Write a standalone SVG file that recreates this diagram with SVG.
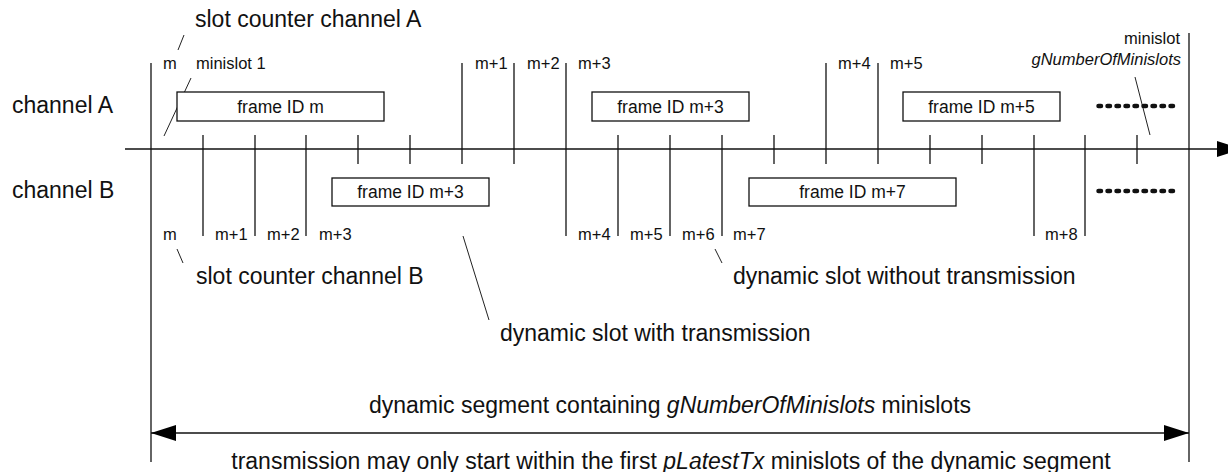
<svg xmlns="http://www.w3.org/2000/svg" width="1228" height="472" viewBox="0 0 1228 472">
<defs>
<style>
.ln{stroke:#111;stroke-width:1.3;fill:none}
.ld{stroke:#222;stroke-width:1;fill:none}
.box{fill:#fff;stroke:#111;stroke-width:1.3}
.big{font-family:"Liberation Sans",Arial,sans-serif;font-size:23px;fill:#111}
.ft{font-family:"Liberation Sans",Arial,sans-serif;font-size:17.5px;fill:#111;text-anchor:middle}
.sm{font-family:"Liberation Sans",Arial,sans-serif;font-size:16.5px;fill:#111}
.dash{stroke:#111;stroke-width:4.5;stroke-dasharray:2.5 6.5;stroke-linecap:round;fill:none}
</style>
<marker id="ah" markerWidth="25" markerHeight="16" refX="25" refY="8" orient="auto-start-reverse" markerUnits="userSpaceOnUse">
<path d="M0,0 L25,8 L0,16 Z" fill="#000"/>
</marker>
</defs>
<rect width="1228" height="472" fill="#fff"/>

<g id="connectors">
<line class="ln" x1="151" y1="63" x2="151" y2="462"/>
<line class="ln" x1="1189" y1="33" x2="1189" y2="462"/>
<line class="ln" x1="125" y1="149" x2="1217" y2="149"/>
<path d="M1217,141 L1242,149 L1217,157 Z" fill="#000"/>
<g id="ticks">
<line class="ln" x1="203" y1="135" x2="203" y2="236"/>
<line class="ln" x1="255" y1="135" x2="255" y2="236"/>
<line class="ln" x1="306" y1="135" x2="306" y2="236"/>
<line class="ln" x1="358" y1="135" x2="358" y2="164"/>
<line class="ln" x1="410" y1="135" x2="410" y2="164"/>
<line class="ln" x1="462" y1="63" x2="462" y2="164"/>
<line class="ln" x1="514" y1="63" x2="514" y2="164"/>
<line class="ln" x1="566" y1="63" x2="566" y2="236"/>
<line class="ln" x1="618" y1="135" x2="618" y2="236"/>
<line class="ln" x1="670" y1="135" x2="670" y2="236"/>
<line class="ln" x1="722" y1="135" x2="722" y2="236"/>
<line class="ln" x1="774" y1="135" x2="774" y2="164"/>
<line class="ln" x1="826" y1="63" x2="826" y2="164"/>
<line class="ln" x1="878" y1="63" x2="878" y2="164"/>
<line class="ln" x1="930" y1="135" x2="930" y2="164"/>
<line class="ln" x1="982" y1="135" x2="982" y2="164"/>
<line class="ln" x1="1034" y1="135" x2="1034" y2="236"/>
<line class="ln" x1="1085" y1="135" x2="1085" y2="236"/>
<line class="ln" x1="1137" y1="135" x2="1137" y2="164"/>
</g>
<g id="leaders">
<line class="ld" x1="184" y1="35" x2="178" y2="50"/>
<line class="ld" x1="191" y1="78" x2="164" y2="136"/>
<line class="ld" x1="177" y1="249" x2="183" y2="263"/>
<line class="ld" x1="463" y1="236" x2="489" y2="320"/>
<line class="ld" x1="715" y1="249" x2="722" y2="263"/>
<line class="ld" x1="1135" y1="77" x2="1150" y2="135"/>
</g>
<line class="ln" x1="151" y1="433" x2="1189" y2="433" marker-start="url(#ah)" marker-end="url(#ah)"/>
</g>

<g id="frameA1"><rect class="box" x="177" y="92" width="207" height="29"/><text class="ft" x="280.5" y="113">frame ID m</text></g>
<g id="frameA2"><rect class="box" x="592" y="92" width="157" height="29"/><text class="ft" x="670.5" y="113">frame ID m+3</text></g>
<g id="frameA3"><rect class="box" x="903" y="92" width="157" height="29"/><text class="ft" x="981.5" y="113">frame ID m+5</text></g>
<g id="frameB1"><rect class="box" x="332" y="178" width="157" height="28"/><text class="ft" x="410.5" y="198">frame ID m+3</text></g>
<g id="frameB2"><rect class="box" x="749" y="178" width="207" height="28"/><text class="ft" x="852.5" y="198">frame ID m+7</text></g>

<g id="dashesA"><line class="dash" x1="1098.5" y1="106" x2="1173" y2="106"/></g>
<g id="dashesB"><line class="dash" x1="1098.5" y1="191" x2="1173" y2="191"/></g>

<g id="channel-labels">
<text class="big" x="12" y="113">channel A</text>
<text class="big" x="12" y="198">channel B</text>
</g>

<g id="labels-top">
<text class="sm" x="163" y="69">m</text>
<text class="sm" x="196" y="69">minislot 1</text>
<text class="sm" x="475" y="69">m+1</text>
<text class="sm" x="527" y="69">m+2</text>
<text class="sm" x="578" y="69">m+3</text>
<text class="sm" x="838" y="69">m+4</text>
<text class="sm" x="890" y="69">m+5</text>
<text class="sm" x="1180" y="44" text-anchor="end">minislot</text>
<text class="sm" x="1181" y="65" text-anchor="end" font-style="italic">gNumberOfMinislots</text>
</g>

<g id="labels-bottom">
<text class="sm" x="163" y="240">m</text>
<text class="sm" x="215" y="240">m+1</text>
<text class="sm" x="267" y="240">m+2</text>
<text class="sm" x="319" y="240">m+3</text>
<text class="sm" x="578" y="240">m+4</text>
<text class="sm" x="630" y="240">m+5</text>
<text class="sm" x="682" y="240">m+6</text>
<text class="sm" x="733" y="240">m+7</text>
<text class="sm" x="1045" y="240">m+8</text>
</g>

<g id="annotations">
<text class="big" x="195" y="27">slot counter channel A</text>
<text class="big" x="196" y="284">slot counter channel B</text>
<text class="big" x="733" y="284">dynamic slot without transmission</text>
<text class="big" x="500" y="341">dynamic slot with transmission</text>
<text class="big" x="670" y="413" text-anchor="middle">dynamic segment containing <tspan font-style="italic">gNumberOfMinislots</tspan> minislots</text>
<text class="big" x="671" y="469" text-anchor="middle">transmission may only start within the first <tspan font-style="italic">pLatestTx</tspan> minislots of the dynamic segment</text>
</g>
</svg>
